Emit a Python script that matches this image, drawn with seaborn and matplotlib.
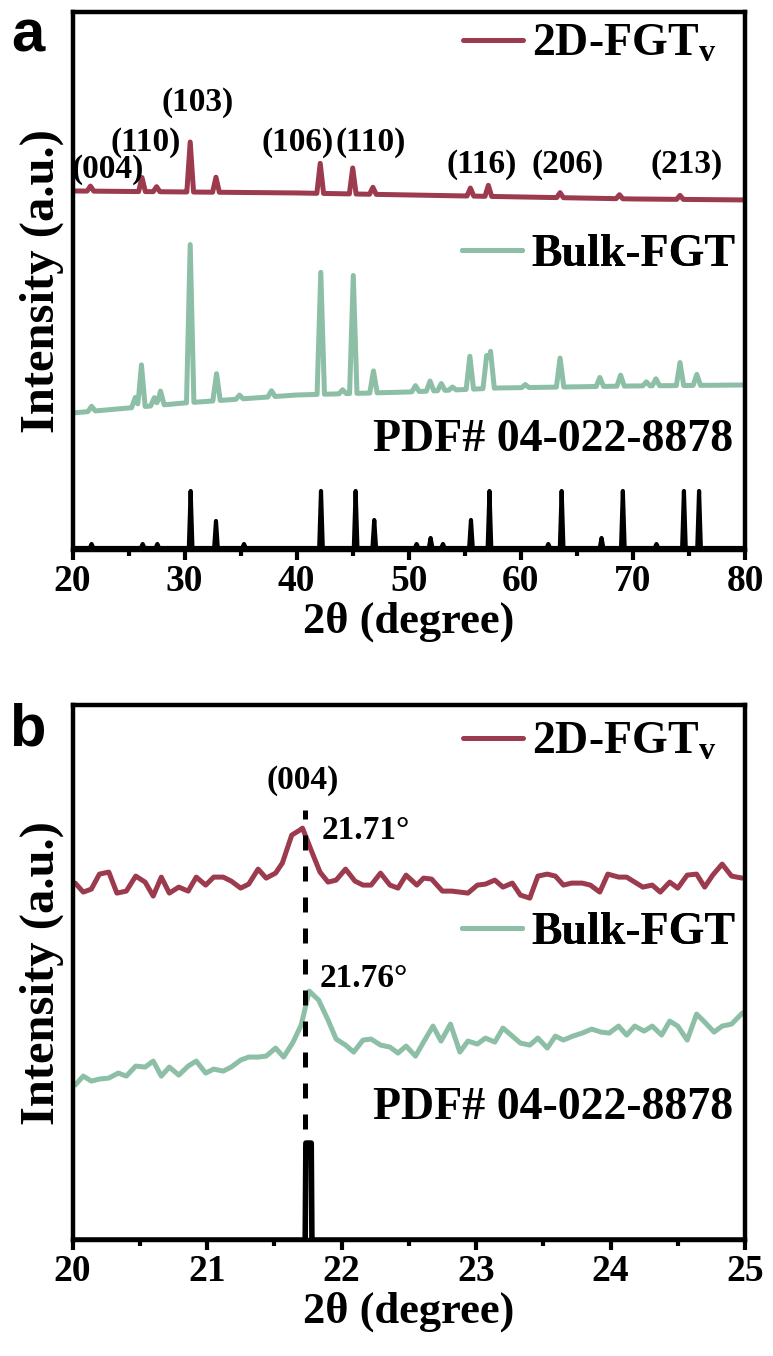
import numpy as np
import pandas as pd
import matplotlib
matplotlib.use("Agg")
import matplotlib.pyplot as plt
from matplotlib.ticker import MultipleLocator
import seaborn as sns

# ---------------- (a) wide-range XRD, 2theta 20-80 ----------------
# 2D-FGTv: baseline anchors and peaks (position, height above baseline)
fgt2d_base_x = [20, 30, 40, 50, 55, 60, 70, 80]
fgt2d_base_y = [359, 358, 357, 355, 354, 353, 351, 350]
fgt2d_peak_pos = [21.6, 26.2, 27.5, 30.5, 32.8, 42.1, 45.0, 46.8, 55.5, 57.1, 63.5, 68.8, 74.2]
fgt2d_peak_h = [5, 14, 5, 50, 15, 30, 26, 7, 8, 11, 5, 4, 4]

# Bulk-FGT
bulk_base_x = [20, 30, 40, 50, 58, 70, 80]
bulk_base_y = [137, 147, 155, 158, 162, 164, 165]
bulk_peak_pos = [21.7, 25.6, 26.15, 27.3, 27.85, 30.5, 32.85, 34.9, 37.75, 42.15, 44.1,
                 45.05, 46.85, 50.6, 51.9, 52.9, 53.9, 55.45, 56.95, 57.3, 60.4, 63.5,
                 67.05, 68.9, 71.2, 72.05, 74.2, 75.7]
bulk_peak_h = [5, 10, 42, 8, 14, 158, 27, 4, 6, 122, 4,
               118, 22, 6, 10, 7, 3, 33, 33, 37, 3, 29,
               9, 11, 4, 7, 23, 11]

# Reference pattern PDF# 04-022-8878
pdf_base_x = [20, 80]
pdf_base_y = [2, 2]
pdf_peak_pos = [21.7, 26.26, 27.57, 30.54, 32.8, 35.3, 42.17, 45.26, 46.92, 50.7, 51.95,
                53.05, 55.55, 57.2, 62.45, 63.64, 67.2, 69.1, 72.1, 74.55, 75.9]
pdf_peak_h = [4, 4, 4, 57, 27, 4, 57, 57, 28, 4, 10,
              4, 28, 57, 4, 57, 10, 57, 4, 57, 57]

hkl_labels_a = ["(004)", "(110)", "(103)", "(106)", "(110)", "(116)", "(206)", "(213)"]
hkl_x_a = [23.17, 26.56, 31.2, 40.12, 46.63, 56.5, 64.16, 74.79]
hkl_y_a = [380, 407, 447, 407, 407, 385, 385, 385]

# ---------------- (b) zoom on the (004) reflection ----------------
fgt2d_b_x = [20.02, 20.08, 20.14, 20.20, 20.27, 20.33, 20.40, 20.47, 20.54, 20.60, 20.66,
             20.72, 20.79, 20.86, 20.92, 20.99, 21.05, 21.12, 21.18, 21.25, 21.31, 21.38,
             21.44, 21.51, 21.56, 21.63, 21.69, 21.71, 21.78, 21.84, 21.90, 21.96, 22.03,
             22.10, 22.16, 22.22, 22.29, 22.36, 22.42, 22.48, 22.56, 22.61, 22.67, 22.75,
             22.82, 22.88, 22.94, 23.01, 23.07, 23.14, 23.20, 23.27, 23.33, 23.40, 23.46,
             23.53, 23.59, 23.65, 23.71, 23.79, 23.85, 23.92, 23.98, 24.06, 24.12, 24.18,
             24.24, 24.31, 24.37, 24.44, 24.50, 24.57, 24.64, 24.70, 24.76, 24.83, 24.90,
             24.98]
fgt2d_b_y = [357, 348, 351, 366, 368, 347, 349, 364, 358, 344, 363,
             347, 353, 349, 363, 355, 363, 363, 359, 352, 356, 371,
             362, 367, 377, 405, 410, 412, 388, 368, 358, 360, 371,
             359, 355, 355, 367, 355, 352, 365, 355, 362, 361, 349,
             349, 348, 347, 355, 356, 360, 353, 357, 345, 342, 364,
             366, 364, 355, 357, 357, 355, 348, 366, 363, 363, 358,
             353, 355, 348, 358, 352, 365, 366, 353, 365, 376, 364,
             362]

bulk_b_x = [20.02, 20.08, 20.14, 20.20, 20.27, 20.34, 20.40, 20.47, 20.54, 20.60, 20.66,
            20.72, 20.79, 20.86, 20.92, 20.99, 21.05, 21.12, 21.18, 21.25, 21.31, 21.38,
            21.44, 21.51, 21.57, 21.64, 21.70, 21.73, 21.76, 21.83, 21.90, 21.96, 22.03,
            22.09, 22.16, 22.22, 22.29, 22.36, 22.42, 22.48, 22.55, 22.61, 22.68, 22.74,
            22.81, 22.88, 22.94, 23.01, 23.07, 23.14, 23.20, 23.27, 23.33, 23.40, 23.46,
            23.53, 23.59, 23.65, 23.72, 23.79, 23.86, 23.93, 23.99, 24.06, 24.12, 24.18,
            24.25, 24.31, 24.38, 24.44, 24.50, 24.57, 24.64, 24.70, 24.77, 24.83, 24.90,
            24.98]
bulk_b_y = [155, 164, 159, 161, 162, 167, 164, 174, 173, 179, 164,
            173, 165, 174, 179, 167, 171, 169, 173, 180, 183, 183,
            184, 192, 183, 198, 215, 232, 249, 240, 220, 201, 195,
            188, 200, 201, 195, 193, 187, 194, 184, 198, 214, 199,
            216, 188, 199, 196, 202, 198, 212, 204, 197, 195, 202,
            192, 204, 200, 204, 207, 211, 208, 207, 214, 205, 214,
            209, 214, 205, 219, 214, 200, 226, 218, 208, 214, 216,
            227]

pdf_b_x = [20.0, 21.73, 21.735, 21.775, 21.78, 25.0]
pdf_b_y = [0, 0, 97, 97, 0, 0]

RED = "#9c3a4e"
GREEN = "#8cbfa6"


def profile(base_x, base_y, pos, h, hw):
    """Piecewise-linear pattern: baseline plus triangular reflections."""
    pos = np.asarray(pos, float)
    h = np.asarray(h, float)
    xs = np.unique(np.concatenate([base_x, pos - hw, pos, pos + hw]))
    ys = np.interp(xs, base_x, base_y)
    for p, hh in zip(pos, h):
        ys = ys + hh * np.clip(1 - np.abs(xs - p) / hw, 0, None)
    return pd.DataFrame({"two_theta": xs, "intensity": ys})


sns.set_theme(style="ticks")
plt.rcParams.update({
    "font.family": ["Liberation Serif", "DejaVu Serif"],
    "font.weight": "bold",
    "axes.labelweight": "bold",
    "mathtext.fontset": "custom",
    "mathtext.rm": "Liberation Serif:bold",
    "mathtext.it": "Liberation Serif:bold",
    "mathtext.bf": "Liberation Serif:bold",
    "axes.linewidth": 3.2,
    "axes.edgecolor": "black",
    "text.color": "black",
    "axes.labelcolor": "black",
    "xtick.color": "black",
    "ytick.color": "black",
    "lines.solid_joinstyle": "round",
    "lines.solid_capstyle": "round",
})

fig = plt.figure(figsize=(7.73, 13.56), dpi=100)
ax_a = fig.add_axes([0.0938, 0.5944, 0.870, 0.3968])
ax_b = fig.add_axes([0.0938, 0.0855, 0.870, 0.3945])

LW = 3.6
LEG_FS = 33
HKL_FS = 24
TICK_FS = 27
XLAB_FS = 32
YLAB_FS = 35

# ---- panel a ----
df_2d = profile(fgt2d_base_x, fgt2d_base_y, fgt2d_peak_pos, fgt2d_peak_h, 0.3)
df_bulk = profile(bulk_base_x, bulk_base_y, bulk_peak_pos, bulk_peak_h, 0.33)
df_pdf = profile(pdf_base_x, pdf_base_y, pdf_peak_pos, pdf_peak_h, 0.16)

sns.lineplot(data=df_2d, x="two_theta", y="intensity", ax=ax_a, color=RED, lw=LW,
             estimator=None, label="2D-FGT$_{v}$")
sns.lineplot(data=df_bulk, x="two_theta", y="intensity", ax=ax_a, color=GREEN, lw=LW,
             estimator=None, label="Bulk-FGT")
sns.lineplot(data=df_pdf, x="two_theta", y="intensity", ax=ax_a, color="black", lw=3.0,
             estimator=None)

for lab, x, y in zip(hkl_labels_a, hkl_x_a, hkl_y_a):
    ax_a.text(x, y, lab, ha="center", va="center", fontsize=HKL_FS, fontweight="bold")

ax_a.set_xlim(20, 80)
ax_a.set_ylim(0, 538)
ax_a.xaxis.set_major_locator(MultipleLocator(10))
ax_a.xaxis.set_minor_locator(MultipleLocator(5))

# ---- panel b ----
df_2d_b = pd.DataFrame({"two_theta": fgt2d_b_x, "intensity": fgt2d_b_y})
df_bulk_b = pd.DataFrame({"two_theta": bulk_b_x, "intensity": bulk_b_y})
df_pdf_b = pd.DataFrame({"two_theta": pdf_b_x, "intensity": pdf_b_y})

sns.lineplot(data=df_2d_b, x="two_theta", y="intensity", ax=ax_b, color=RED, lw=LW,
             estimator=None, label="2D-FGT$_{v}$")
sns.lineplot(data=df_bulk_b, x="two_theta", y="intensity", ax=ax_b, color=GREEN, lw=LW,
             estimator=None, label="Bulk-FGT")
sns.lineplot(data=df_pdf_b, x="two_theta", y="intensity", ax=ax_b, color="black", lw=4.0,
             estimator=None)

ax_b.vlines(21.73, 80, 430, colors="black", linestyles=(0, (3, 3.2)), lw=3.6)
ax_b.text(21.714, 460, "(004)", ha="center", va="center", fontsize=HKL_FS, fontweight="bold")
ax_b.text(21.85, 410, "21.71°", ha="left", va="center", fontsize=HKL_FS, fontweight="bold")
ax_b.text(21.84, 262, "21.76°", ha="left", va="center", fontsize=HKL_FS, fontweight="bold")

ax_b.set_xlim(20, 25)
ax_b.set_ylim(0, 535)
ax_b.xaxis.set_major_locator(MultipleLocator(1))
ax_b.xaxis.set_minor_locator(MultipleLocator(0.5))

# ---- shared styling ----
legend_pos = {ax_a: [(0.957, 0.9387), (0.985, 0.548)],
              ax_b: [(0.957, 0.9295), (0.985, 0.574)]}
pdf_pos = {ax_a: 0.2045, ax_b: 0.2467}

for ax in (ax_a, ax_b):
    handles, labels = ax.get_legend_handles_labels()
    if ax.get_legend() is not None:
        ax.get_legend().remove()
    for (h, l), anchor in zip(zip(handles, labels), legend_pos[ax]):
        leg = ax.legend([h], [l], loc="center right", bbox_to_anchor=anchor,
                        frameon=False, handlelength=1.3,
                        handletextpad=0.2, borderpad=0, borderaxespad=0,
                        labelcolor="black",
                        prop={"weight": "bold", "size": LEG_FS})
        ax.add_artist(leg)
    ax.text(0.982, pdf_pos[ax], "PDF# 04-022-8878", transform=ax.transAxes,
            ha="right", va="center", fontsize=LEG_FS, fontweight="bold")

    ax.set_yticks([])
    ax.tick_params(axis="x", which="major", direction="out", length=7, width=3,
                   labelsize=TICK_FS, pad=3, bottom=True, top=False,
                   color="black", labelcolor="black")
    ax.tick_params(axis="x", which="minor", direction="out", length=4, width=3,
                   bottom=True, top=False, color="black")
    for lab in ax.get_xticklabels():
        lab.set_fontweight("bold")
    ax.set_xlabel("2θ (degree)", fontsize=XLAB_FS, fontweight="bold", labelpad=2)
    ax.set_ylabel("Intensity (a.u.)", fontsize=YLAB_FS, fontweight="bold", labelpad=6)
    for sp in ax.spines.values():
        sp.set_visible(True)
        sp.set_linewidth(3.2)
        sp.set_color("black")

fig.text(0.036, 1 - 36 / 1356, "a", fontsize=43, fontweight="bold",
         family="Liberation Sans", ha="center", va="center")
fig.text(0.036, 1 - 730 / 1356, "b", fontsize=43, fontweight="bold",
         family="Liberation Sans", ha="center", va="center")

fig.savefig("out.png", dpi=100)
